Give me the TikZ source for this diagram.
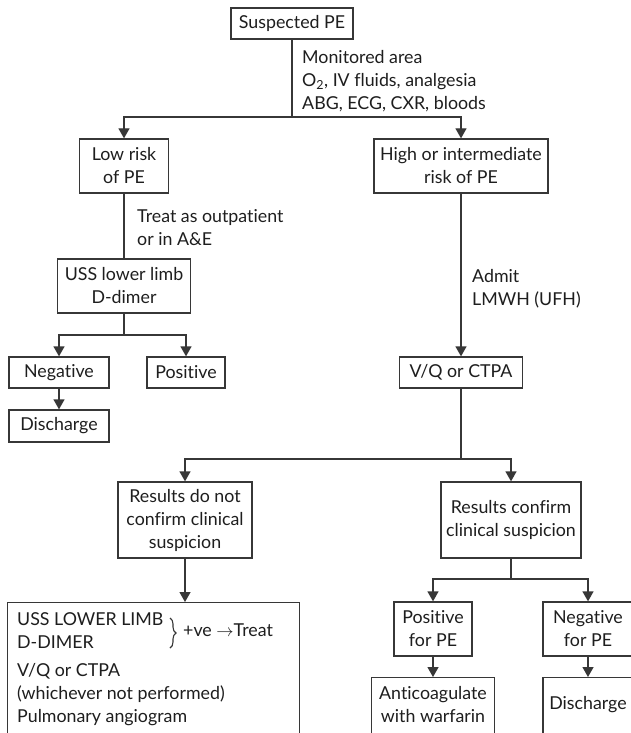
\documentclass[tikz,border=0pt]{standalone}
\usepackage{fontspec}
\setmainfont[Ligatures=NoCommon]{Lato}
\usetikzlibrary{arrows.meta,decorations.pathreplacing}
\definecolor{linec}{RGB}{55,55,55}
\definecolor{txtc}{RGB}{30,30,30}
\begin{document}
\begin{tikzpicture}[x=1pt,y=-1pt,
  every node/.style={font=\fontsize{17.8}{23}\selectfont, text=txtc},
  box/.style={draw=linec, line width=1.3pt, inner sep=0pt, align=center},
  lbl/.style={align=left, anchor=west, inner sep=0pt},
  conn/.style={draw=linec, line width=1.3pt},
  arr/.style={-{Triangle[length=10pt,width=11pt]}}]
\useasboundingbox (0,0) rectangle (631,733);
\clip (0,0) rectangle (631,733);
\fill[white] (0,0) rectangle (631,733);

% boxes
\node[box, minimum width=122pt, minimum height=31pt] (susp) at (292,23.5) {Suspected PE};
\node[box, minimum width=89pt, minimum height=54pt] (low) at (124,166) {Low risk\\of PE};
\node[box, minimum width=174pt, minimum height=54pt] (high) at (461,166) {High or intermediate\\risk of PE};
\node[box, minimum width=133pt, minimum height=54pt] (uss) at (124,286) {USS lower limb\\D-dimer};
\node[box, minimum width=100pt, minimum height=31pt] (neg) at (59,372.5) {Negative};
\node[box, minimum width=78pt, minimum height=31pt] (pos) at (186,372.5) {Positive};
\node[box, minimum width=100pt, minimum height=32pt] (dis1) at (59,426) {Discharge};
\node[box, minimum width=123pt, minimum height=31pt] (vq) at (461,372.5) {V/Q or CTPA};
\node[box, minimum width=134pt, minimum height=76pt] (rnc) at (185,520) {Results do not\\confirm clinical\\suspicion};
\node[box, minimum width=140pt, minimum height=76pt] (rc) at (511,520) {Results confirm\\clinical suspicion};
\node[box, minimum width=78pt, minimum height=54pt] (ppe) at (433,629) {Positive\\for PE};
\node[box, minimum width=90pt, minimum height=54pt] (npe) at (588,629) {Negative\\for PE};
\node[box, minimum width=123pt, minimum height=80pt, anchor=north] (anti) at (433,677) {};
\node[align=center, inner sep=0pt] (antit) at (433,705) {Anticoagulate\\with warfarin};
\node[box, minimum width=90pt, minimum height=80pt, anchor=north] (dis2) at (588,677) {};
\node[inner sep=0pt] (dis2t) at (588,705) {Discharge};
\node[box, minimum width=292pt, minimum height=150pt, anchor=north west] (big) at (7,602) {};
\node[lbl] (bigt) at (17,669) {USS LOWER LIMB\\D-DIMER\\[5pt]V/Q or CTPA\\(whichever not performed)\\Pulmonary angiogram};
\draw[conn, line width=1.1pt, decorate, decoration={brace, amplitude=6pt}] (170,618) -- (170,648);
\node[lbl] (treatpos) at (183,630) {+ve $\rightarrow$Treat};

% labels
\node[lbl] (mon) at (302,81) {Monitored area\\O\textsubscript{2}, IV fluids, analgesia\\ABG, ECG, CXR, bloods};
\node[lbl] (treat) at (137,228) {Treat as outpatient\\or in A\&E};
\node[lbl] (admit) at (472,288.5) {Admit\\LMWH (UFH)};

% connectors
\coordinate (j1) at (292,117);
\draw[conn] (susp) -- (j1);
\draw[conn,arr] (j1) -| (low);
\draw[conn,arr] (j1) -| (high);
\draw[conn] (low) -- (uss);
\coordinate (j2) at (124,335);
\draw[conn] (uss) -- (j2);
\draw[conn,arr] (j2) -| (neg);
\draw[conn,arr] (j2) -| (pos);
\draw[conn,arr] (neg) -- (dis1);
\draw[conn,arr] (high) -- (vq);
\coordinate (j3) at (461,459);
\draw[conn] (vq) -- (j3);
\draw[conn,arr] (j3) -| (rnc);
\draw[conn,arr] (j3) -| (rc);
\draw[conn,arr] (rnc.south) -- (rnc.south |- big.north);
\coordinate (j4) at (511,579);
\draw[conn] (rc) -- (j4);
\draw[conn,arr] (j4) -| (ppe);
\draw[conn,arr] (j4) -| (npe);
\draw[conn,arr] (ppe) -- (anti);
\draw[conn,arr] (npe) -- (dis2);
\end{tikzpicture}
\end{document}
